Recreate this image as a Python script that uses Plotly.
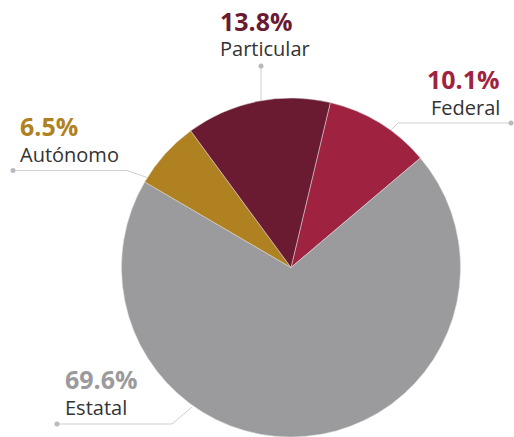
import plotly.graph_objects as go

# data, in clockwise order starting just right of 12 o'clock
labels = ["Federal", "Estatal", "Autónomo", "Particular"]
shares = [10.1, 69.6, 6.5, 13.8]
colors = ["#9f2241", "#9b9a9c", "#b08120", "#6a1a31"]

W, H = 514, 437


def px(x):
    return x / W


def py(y):
    return 1 - y / H


fig = go.Figure(go.Pie(
    labels=labels,
    values=shares,
    sort=False,
    direction="clockwise",
    rotation=13.4,
    marker=dict(colors=colors, line=dict(color="#e0e0e0", width=0.5)),
    textinfo="none",
    hoverinfo="label+percent",
    domain=dict(x=[px(121), px(461)], y=[0, py(98)]),
))

# label placement: (pct x, pct baseline, anchor, leader points)
label_pos = {
    "Particular": dict(x=218, base=30, anchor="left",
                       path=[(261, 66), (261, 100)]),
    "Federal": dict(x=502, base=88, anchor="right",
                    path=[(511, 123), (398, 123), (391, 130)]),
    "Autónomo": dict(x=18, base=135, anchor="left",
                     path=[(13, 170.5), (127, 170.5), (147, 177.5)]),
    "Estatal": dict(x=63, base=388, anchor="left",
                    path=[(57, 424), (172, 424), (192, 407)]),
}

annotations = []
shapes = []
for name, val, col in zip(labels, shares, colors):
    p = label_pos[name]
    annotations.append(dict(
        x=px(p["x"]), y=py(p["base"] - 9), xref="paper", yref="paper",
        text="<b>%.1f%%</b>" % val, showarrow=False, xanchor=p["anchor"],
        yanchor="middle", font=dict(family="Open Sans", size=25, color=col)))
    annotations.append(dict(
        x=px(p["x"]), y=py(p["base"] + 26 - 7), xref="paper", yref="paper",
        text=name, showarrow=False, xanchor=p["anchor"], yanchor="middle",
        font=dict(family="Open Sans", size=20, color="#333333")))
    pts = p["path"]
    d = "M " + " L ".join("%f,%f" % (px(a), py(b)) for a, b in pts)
    shapes.append(dict(type="path", path=d, xref="paper", yref="paper",
                       line=dict(color="#cfcfd2", width=1)))
    dx, dy = pts[0]
    shapes.append(dict(type="circle", xref="paper", yref="paper",
                       x0=px(dx - 2.5), x1=px(dx + 2.5),
                       y0=py(dy + 2.5), y1=py(dy - 2.5),
                       fillcolor="#b9b9c0", line=dict(width=0)))

fig.update_layout(
    width=W, height=H,
    margin=dict(l=0, r=0, t=0, b=0),
    paper_bgcolor="white",
    showlegend=False,
    annotations=annotations,
    shapes=shapes,
)

# page body has a default 8px margin; drop it so the chart fills the window
fig.write_html("out.html", config={"displayModeBar": False},
               post_script="document.body.style.margin='0';")
